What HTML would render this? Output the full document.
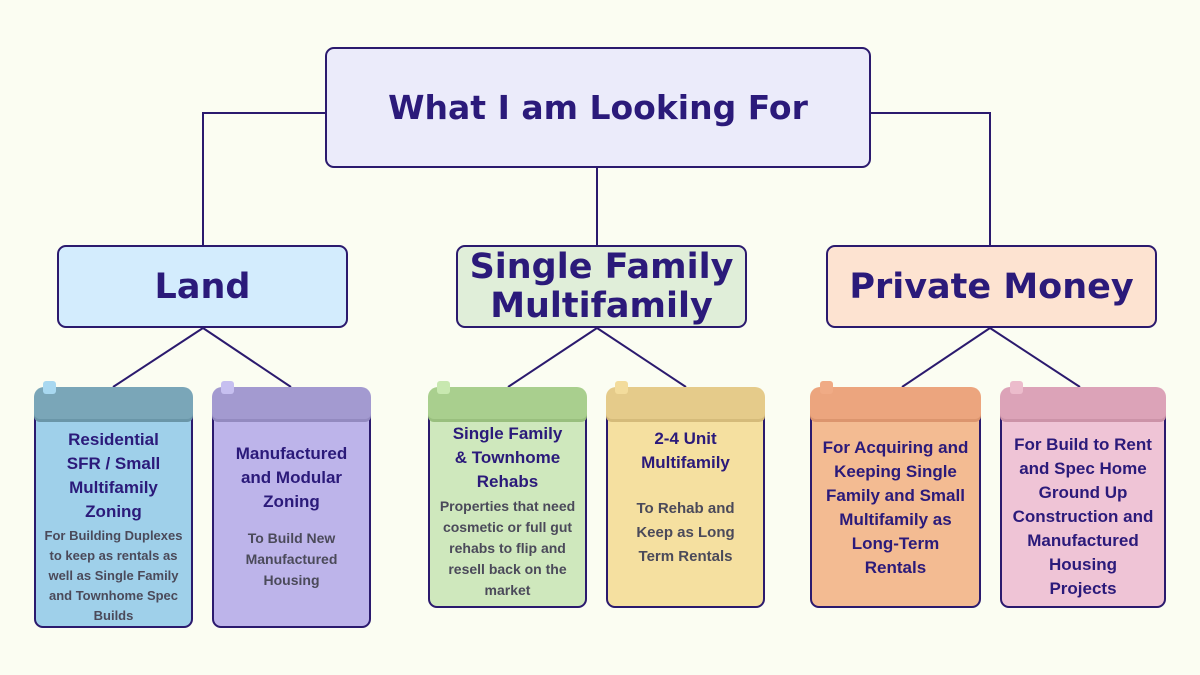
<!DOCTYPE html><html><head><meta charset="utf-8"><style>
body{margin:0;width:1200px;height:675px;background:#fbfdf2;position:relative;overflow:hidden;font-family:"Liberation Sans",sans-serif}
.b{position:absolute;box-sizing:border-box;border:2px solid #2b1a6e;border-radius:9px;display:flex;align-items:center;justify-content:center;text-align:center;color:#2b1a7a;font-weight:bold;font-family:"DejaVu Sans",sans-serif}
.body{position:absolute;box-sizing:border-box;border:2.5px solid #2b1a6e;border-radius:9px;text-align:center}
.hd{position:absolute;height:32px;border-radius:10px 10px 6px 6px}
.tab{position:absolute;width:13px;height:13px;border-radius:3px}
.t{color:#2b1a7a;font-weight:bold;font-size:17px;line-height:24px}
.s{color:#4b4a5a;font-weight:bold;font-size:14px;line-height:21px;white-space:nowrap}
</style></head><body>
<svg width="1200" height="675" style="position:absolute;left:0;top:0" fill="none" stroke="#2b1a6e" stroke-width="2">
<polyline points="325,113 203,113 203,245"/><line x1="597" y1="168" x2="597" y2="245"/><polyline points="871,113 990,113 990,245"/>
<polyline points="113,387 203,328 291,387"/><polyline points="508,387 597,328 686,387"/><polyline points="902,387 990,328 1080,387"/>
</svg>
<div class="b" style="left:325px;top:47px;width:546px;height:121px;background:#ebebfa;font-size:33px">What I am Looking For</div>
<div class="b" style="left:57px;top:245px;width:291px;height:83px;background:#d3ecfd;font-size:35px">Land</div>
<div class="b" style="left:456px;top:245px;width:291px;height:83px;background:#e0eed9;font-size:35px;line-height:39px">Single Family<br>Multifamily</div>
<div class="b" style="left:826px;top:245px;width:331px;height:83px;background:#fde3d1;font-size:35px">Private Money</div>

<div class="body" style="left:34px;top:395px;width:159px;height:233px;background:#9fd0ea"></div>
<div class="hd" style="left:34px;top:387px;width:159px;background:#7aa6b8;box-shadow:0 3px 0 #6a96a8"></div>
<div class="tab" style="left:43px;top:381px;background:#a8d8f0"></div>
<div style="position:absolute;left:34px;top:428px;width:159px;text-align:center"><div class="t" style="line-height:24px">Residential<br>SFR / Small<br>Multifamily<br>Zoning</div><div class="s" style="font-size:13px;line-height:20px;margin-top:2px">For Building Duplexes<br>to keep as rentals as<br>well as Single Family<br>and Townhome Spec<br>Builds</div></div>

<div class="body" style="left:212px;top:395px;width:159px;height:233px;background:#bdb4ea"></div>
<div class="hd" style="left:212px;top:387px;width:159px;background:#a39ad0;box-shadow:0 3px 0 #938ac0"></div>
<div class="tab" style="left:221px;top:381px;background:#c6bff0"></div>
<div style="position:absolute;left:212px;top:442px;width:159px;text-align:center"><div class="t">Manufactured<br>and Modular<br>Zoning</div><div class="s" style="margin-top:14px">To Build New<br>Manufactured<br>Housing</div></div>

<div class="body" style="left:428px;top:395px;width:159px;height:213px;background:#cfe8bd"></div>
<div class="hd" style="left:428px;top:387px;width:159px;background:#a9cf8e;box-shadow:0 3px 0 #99bf7e"></div>
<div class="tab" style="left:437px;top:381px;background:#c8e8b0"></div>
<div style="position:absolute;left:428px;top:422px;width:159px;text-align:center"><div class="t">Single Family<br>&amp; Townhome<br>Rehabs</div><div class="s" style="margin-top:2px">Properties that need<br>cosmetic or full gut<br>rehabs to flip and<br>resell back on the<br>market</div></div>

<div class="body" style="left:606px;top:395px;width:159px;height:213px;background:#f5e0a0"></div>
<div class="hd" style="left:606px;top:387px;width:159px;background:#e5cb8a;box-shadow:0 3px 0 #d5bb7a"></div>
<div class="tab" style="left:615px;top:381px;background:#f3dc9c"></div>
<div style="position:absolute;left:606px;top:427px;width:159px;text-align:center"><div class="t">2-4 Unit<br>Multifamily</div><div class="s" style="margin-top:22px;line-height:24px;font-size:15px">To Rehab and<br>Keep as Long<br>Term Rentals</div></div>

<div class="body" style="left:810px;top:395px;width:171px;height:213px;background:#f3bb92"></div>
<div class="hd" style="left:810px;top:387px;width:171px;background:#eca57e;box-shadow:0 3px 0 #dc956e"></div>
<div class="tab" style="left:820px;top:381px;background:#f0ab85"></div>
<div style="position:absolute;left:810px;top:436px;width:171px;text-align:center"><div class="t">For Acquiring and<br>Keeping Single<br>Family and Small<br>Multifamily as<br>Long-Term<br>Rentals</div></div>

<div class="body" style="left:1000px;top:395px;width:166px;height:213px;background:#efc4d6"></div>
<div class="hd" style="left:1000px;top:387px;width:166px;background:#dca3b8;box-shadow:0 3px 0 #cc93a8"></div>
<div class="tab" style="left:1010px;top:381px;background:#ecbccc"></div>
<div style="position:absolute;left:1000px;top:433px;width:166px;text-align:center"><div class="t">For Build to Rent<br>and Spec Home<br>Ground Up<br>Construction and<br>Manufactured<br>Housing<br>Projects</div></div>
</body></html>
